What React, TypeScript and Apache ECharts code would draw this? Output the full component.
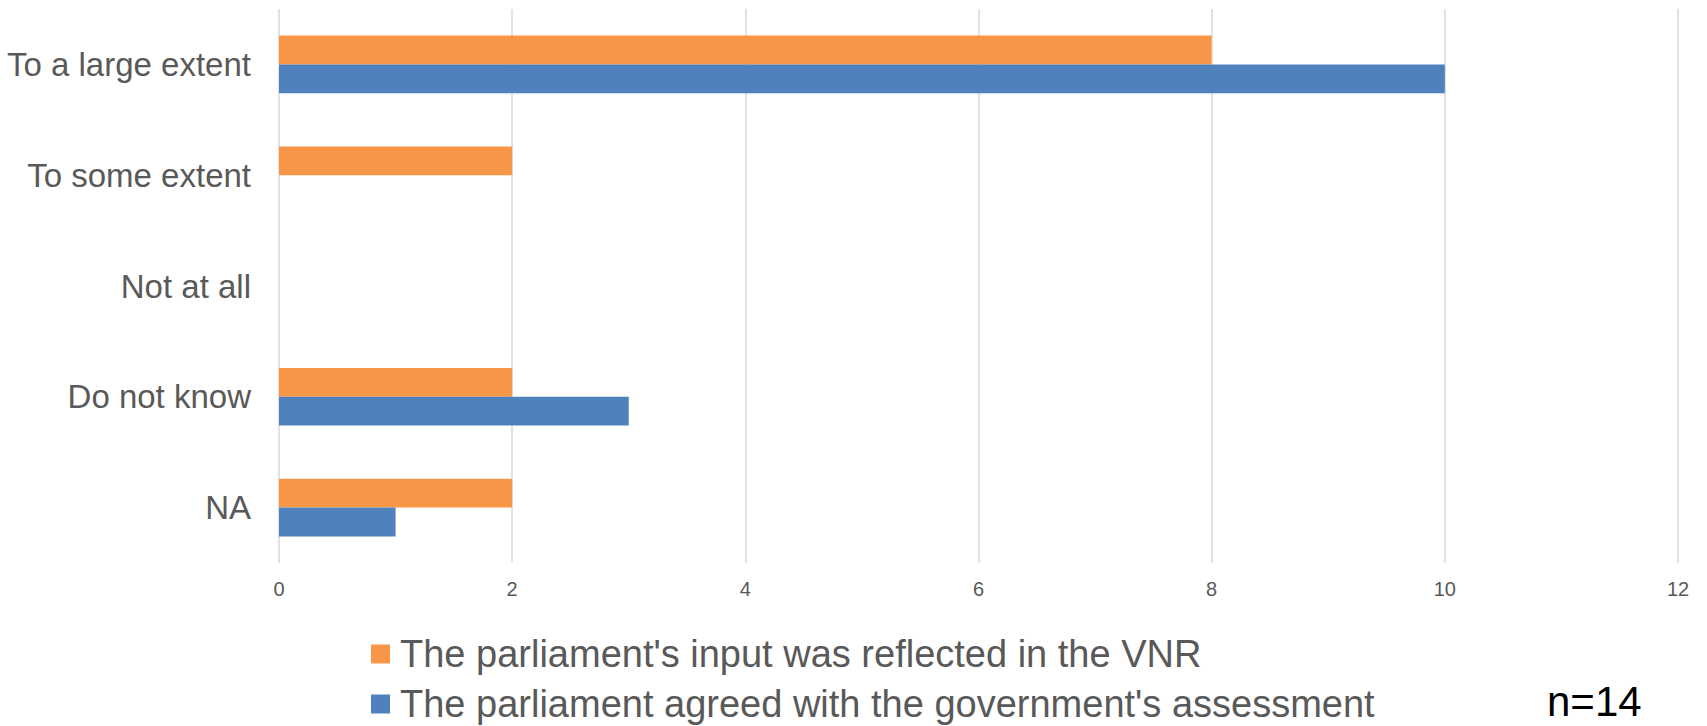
import React, { useEffect, useRef } from "react";
import * as echarts from "echarts";

const categories = ["To a large extent", "To some extent", "Not at all", "Do not know", "NA"];
const inputReflected = [8, 2, 0, 2, 2];
const agreedWithGov = [10, 0, 0, 3, 1];
const seriesNames = [
  "The parliament's input was reflected in the VNR",
  "The parliament agreed with the government's assessment",
];
const noteText = "n=14";

const FONT = "Liberation Sans, Arial, sans-serif";

const legendBase = {
  orient: "horizontal",
  left: 371,
  padding: 0,
  itemWidth: 19,
  itemHeight: 19,
  icon: "rect",
  textStyle: { color: "#595959", fontSize: 38, lineHeight: 38, padding: [0, 0, 0, 5] },
};

export default function App() {
  const ref = useRef<HTMLDivElement>(null);
  useEffect(() => {
    if (!ref.current) return;
    const chart = echarts.init(ref.current, null, { renderer: "svg" });
    chart.setOption({
      animation: false,
      backgroundColor: "#ffffff",
      textStyle: { fontFamily: FONT },
      grid: { left: 279, right: 29, top: 9, bottom: 163, containLabel: false },
      xAxis: {
        type: "value",
        min: 0,
        max: 12,
        interval: 2,
        axisLine: { show: false },
        axisTick: { show: false },
        axisLabel: { color: "#595959", fontSize: 20, margin: 16 },
        splitLine: { show: true, lineStyle: { color: "#d9d9d9", width: 1.5 } },
      },
      yAxis: {
        type: "category",
        data: categories,
        inverse: true,
        axisLine: { show: false },
        axisTick: { show: false },
        axisLabel: { color: "#595959", fontSize: 33, margin: 28 },
      },
      legend: [
        { ...legendBase, top: 635, data: [seriesNames[0]] },
        { ...legendBase, top: 685, data: [seriesNames[1]] },
      ],
      graphic: [
        {
          type: "text",
          left: 1547,
          top: 680,
          style: { text: noteText, fill: "#000000", fontSize: 42, fontFamily: FONT },
        },
      ],
      series: [
        {
          name: seriesNames[0],
          type: "bar",
          data: inputReflected,
          itemStyle: { color: "#F79646" },
          barGap: "0%",
          barCategoryGap: "48%",
        },
        {
          name: seriesNames[1],
          type: "bar",
          data: agreedWithGov,
          itemStyle: { color: "#4F81BD" },
          barGap: "0%",
          barCategoryGap: "48%",
        },
      ],
    });
    return () => chart.dispose();
  }, []);
  return (
    <div
      ref={ref}
      style={{ position: "fixed", left: 0, top: 0, width: 1707, height: 726 }}
    />
  );
}
